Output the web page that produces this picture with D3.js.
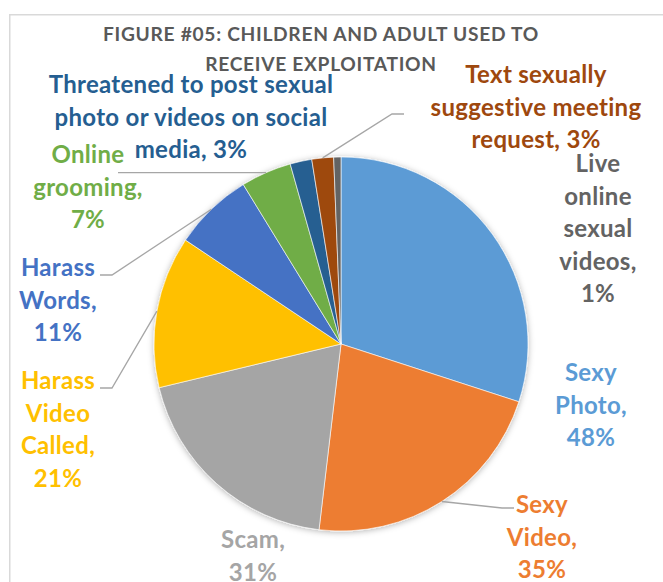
<!DOCTYPE html>
<html>
<head>
<meta charset="utf-8">
<script src="https://cdn.jsdelivr.net/npm/d3@7"></script>
<style>
  html, body { margin: 0; padding: 0; background: #fff; }
  svg { display: block; }
  text { font-family: Lato, "Open Sans", sans-serif; font-weight: 700; }
</style>
</head>
<body>
<svg id="chart" width="663" height="582"></svg>
<script>
// Ways children and adults were approached (share of respondents, %)
const categories = [
  "Sexy Photo",
  "Sexy Video",
  "Scam",
  "Harass Video Called",
  "Harass Words",
  "Online grooming",
  "Threatened to post sexual photo or videos on social media",
  "Text sexually suggestive meeting request",
  "Live online sexual videos"
];
const values = [48, 35, 31, 21, 11, 7, 3, 3, 1];
const colors = ["#5B9BD5", "#ED7D31", "#A5A5A5", "#FFC000", "#4472C4", "#70AD47", "#255E91", "#9E480E", "#636363"];

// Data label wording, wrapped the way it is printed; {v} is the value
const labelTemplates = [
  "Sexy\nPhoto,\n{v}%",
  "Sexy\nVideo,\n{v}%",
  "Scam,\n{v}%",
  "Harass\nVideo\nCalled,\n{v}%",
  "Harass\nWords,\n{v}%",
  "Online\ngrooming,\n{v}%",
  "Threatened to post sexual\nphoto or videos on social\nmedia, {v}%",
  "Text sexually\nsuggestive meeting\nrequest, {v}%",
  "Live\nonline\nsexual\nvideos,\n{v}%"
];
const titleLines = ["FIGURE #05: CHILDREN AND ADULT USED TO", "RECEIVE EXPLOITATION"];

// ---- layout ----
const W = 663, H = 582;
const cx = 341, cy = 344, R = 187;
const lineH = 32.5;
// label block: centre x and first baseline y
const labelAnchor = [
  [591, 381], [542, 513], [253, 548], [58, 389], [58, 276],
  [88, 163], [191, 93], [536, 83], [598, 172]
];
// leader lines: [labelSideX, elbowX, y] -> then to the slice edge
const leaders = {
  1: [514, 502, 508],
  3: [100, 112, 388],
  4: [100, 112, 275],
  5: [118, null, null],
  7: [404, 392, 114]
};

const svg = d3.select("#chart");

// shadow under the pie
const defs = svg.append("defs");
const f = defs.append("filter").attr("id", "pieShadow")
  .attr("x", "-20%").attr("y", "-20%").attr("width", "140%").attr("height", "140%");
f.append("feDropShadow").attr("dx", 0).attr("dy", 1).attr("stdDeviation", 3)
  .attr("flood-color", "#000").attr("flood-opacity", 0.3);

// chart area frame
svg.append("rect")
  .attr("x", 9.75).attr("y", 14.75).attr("width", W + 20).attr("height", H + 20)
  .attr("fill", "#fff").attr("stroke", "#D9D9D9").attr("stroke-width", 1.5);

// title
svg.append("g").selectAll("text").data(titleLines).join("text")
  .attr("x", 321).attr("y", (d, i) => 41 + i * 30)
  .attr("text-anchor", "middle")
  .attr("fill", "#595959")
  .attr("font-size", 19.2)
  .attr("letter-spacing", 0.7)
  .text(d => d);

const pie = d3.pie().sort(null).value(d => d)
  .startAngle(0).endAngle(2 * Math.PI);
const arcs = pie(values);
const arc = d3.arc().innerRadius(0).outerRadius(R);
const edge = d3.arc().innerRadius(R).outerRadius(R);

const gPie = svg.append("g").attr("transform", `translate(${cx},${cy})`);
gPie.append("g").attr("filter", "url(#pieShadow)")
  .selectAll("path").data(arcs).join("path")
  .attr("d", arc)
  .attr("fill", (d, i) => colors[i])
  .attr("stroke", "#fff").attr("stroke-width", 0.6);

// leader lines
const gLead = svg.append("g")
  .attr("fill", "none").attr("stroke", "#A6A6A6").attr("stroke-width", 1.3);
Object.keys(leaders).forEach(k => {
  const i = +k;
  const [ex, ey] = edge.centroid(arcs[i]);
  const px = cx + ex, py = cy + ey;
  const [x0, x1, y] = leaders[k];
  const pts = x1 === null ? [[x0, py], [px, py]] : [[x0, y], [x1, y], [px, py]];
  gLead.append("path").attr("d", d3.line()(pts));
});

// data labels
const gLab = svg.append("g").attr("font-size", 24).attr("letter-spacing", 0.3)
  .attr("text-anchor", "middle");
labelTemplates.forEach((t, i) => {
  const lines = t.replace("{v}", values[i]).split("\n");
  const [lx, ly] = labelAnchor[i];
  gLab.append("text")
    .attr("fill", colors[i])
    .selectAll("tspan").data(lines).join("tspan")
    .attr("x", lx).attr("y", (d, j) => ly + j * lineH)
    .text(d => d);
});
</script>
</body>
</html>
